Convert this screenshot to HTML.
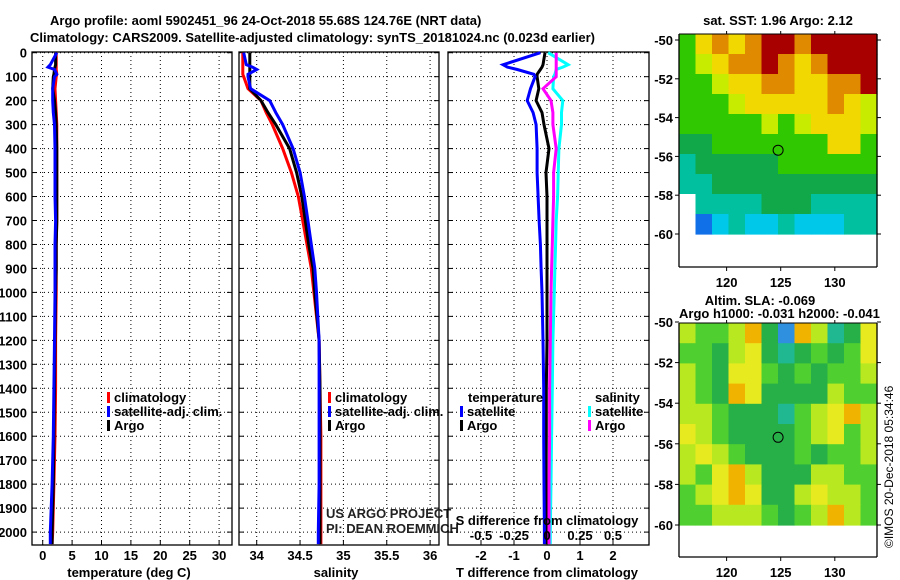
<!DOCTYPE html>
<html><head><meta charset="utf-8"><style>
body{margin:0;background:#fff;}
svg{display:block;font-family:"Liberation Sans",sans-serif;}
.b{font-weight:bold;font-size:13px;}
</style></head><body>
<svg id="c" width="900" height="580" xmlns="http://www.w3.org/2000/svg">
<text class="b" x="50" y="25">Argo profile: aoml 5902451_96 24-Oct-2018 55.68S 124.76E (NRT data)</text>
<text class="b" x="30" y="42">Climatology: CARS2009. Satellite-adjusted climatology: synTS_20181024.nc (0.023d earlier)</text>
<text class="b" x="778" y="25" text-anchor="middle">sat. SST: 1.96 Argo: 2.12</text>
<text class="b" x="760" y="305" text-anchor="middle">Altim. SLA: -0.069</text>
<text class="b" x="679" y="318">Argo h1000: -0.031 h2000: -0.041</text>
<text x="893" y="548" font-size="12" transform="rotate(-90 893 548)">©IMOS 20-Dec-2018 05:34:46</text>
<g id="g"></g>
</svg>
<script>
// ---- data ----
const depths = [0,50,60,70,90,100,150,200,250,300,400,500,600,700,800,900,1000,1200,1400,1600,1800,2000,2050];
const tempArgo = [2.2,2.2,2.1,2.0,1.9,1.8,1.7,2.0,2.2,2.3,2.4,2.4,2.4,2.4,2.3,2.3,2.2,2.1,2.0,1.9,1.8,1.6,1.6];
const tempClim = [2.3,2.3,2.3,2.3,2.4,2.3,2.1,2.2,2.3,2.4,2.4,2.4,2.4,2.4,2.3,2.3,2.3,2.2,2.2,2.1,1.9,1.7,1.6];
const tempSat = [2.4,1.3,0.9,2.0,2.4,2.0,1.7,1.7,1.8,2.0,2.1,2.1,2.1,2.2,2.1,2.1,2.1,2.0,1.9,1.8,1.6,1.3,1.3];
const salArgo = [33.92,33.92,33.92,33.92,33.92,33.92,33.92,34.05,34.13,34.22,34.38,34.46,34.52,34.56,34.60,34.65,34.67,34.72,34.73,34.73,34.73,34.73,34.73];
const salClim = [33.84,33.84,33.84,33.84,33.84,33.85,33.90,34.05,34.11,34.18,34.30,34.40,34.48,34.53,34.58,34.63,34.66,34.72,34.73,34.74,34.74,34.74,34.74];
const salSat = [33.85,33.88,33.95,34.0,33.9,33.9,33.93,34.15,34.22,34.30,34.42,34.50,34.55,34.59,34.63,34.67,34.69,34.72,34.72,34.72,34.72,34.71,34.71];
const dTSat = [-0.2,-1.33,-1.2,-0.9,-0.4,-0.36,-0.5,-0.6,-0.42,-0.33,-0.3,-0.3,-0.27,-0.24,-0.2,-0.18,-0.15,-0.12,-0.1,-0.1,-0.09,-0.08,-0.08];
const dTArgo = [-0.06,-0.12,-0.15,-0.2,-0.3,-0.3,-0.25,-0.33,-0.15,-0.09,0.06,-0.03,0,0,0,0,0,0,-0.02,-0.02,-0.03,-0.03,-0.03];
const dSSat = [0.008,0.16,0.12,0.07,0.06,0.05,0.045,0.12,0.11,0.11,0.09,0.085,0.08,0.07,0.065,0.06,0.055,0.045,0.04,0.035,0.03,0.025,0.025];
const dSArgo = [0.07,0.07,0.07,0.07,0.07,0.07,-0.03,0.03,0.045,0.045,0.07,0.05,0.05,0.045,0.04,0.035,0.03,0.025,0.02,0.02,0.015,0.015,0.015];
const tempTicks = [0,5,10,15,20,25,30];
const salTicks = [34,34.5,35,35.5,36];
const salTickLabels = ["34","34.5","35","35.5","36"];
const dTTicks = [-2,-1,0,1,2];
const dSTicks = [-0.5,-0.25,0,0.25,0.5];
const dSTickLabels = ["-0.5","-0.25","0","0.25","0.5"];
const depthTicks = [0,100,200,300,400,500,600,700,800,900,1000,1100,1200,1300,1400,1500,1600,1700,1800,1900,2000];
const lonTicks = [120,125,130];
const latTicks = [-50,-52,-54,-56,-58,-60];
const sstGrid = ["GYOYORRORRRR","GyYOOROYORRR","GGyYYOOYYOOR","GGGyYYYYYOYy","GGGGGyGyYYYy","ggGGGGGGGYYG","TgggggGGGGGG","TTgggggggggg","WTTTTgggTTTT","WBCTCCTCCCTT"];
const slaGrid = ["yGGyOgBOyTgY","GGgyYgTgGgGY","yGgYYGgGgGGy","yGgOYggggyGG","yyGgggTGyYOy","YyGggggGyYGy","yYyGgggGgGGy","yGYOygggyyGG","GyYOYggyYyyG","GGyyyGgGyOyG"];
const palette = {R:"#a80000",O:"#e08a00",Y:"#f0d800",y:"#c8ec00",G:"#30c800",g:"#10a848",T:"#00c0a0",C:"#00c8e8",B:"#1070e8",W:"#ffffff"};
const slaPalette = {O:"#f0b400",Y:"#e8ea20",y:"#b8e820",G:"#50d030",g:"#28b048",T:"#20b890",B:"#3090e0"};
const argoLon = 124.76, argoLat = -55.68;

// ---- drawing ----
const NS="http://www.w3.org/2000/svg";
const G=document.getElementById('g');
function mk(tag,at,parent){const e=document.createElementNS(NS,tag);for(const k in at)e.setAttribute(k,at[k]);(parent||G).appendChild(e);return e;}
const yD = d => 52.7 + d*0.2397;
const yTop=52, yBot=545;
function panel(name,x0,x1,xs,ticks,labels,ylabels){
  const g=mk('g',{});
  
  
  ticks.forEach((t,i)=>{const x=xs(t);
    mk('line',{x1:x,x2:x,y1:yTop,y2:yBot,stroke:'#000','stroke-dasharray':'1,3'},g);
    mk('line',{x1:x,x2:x,y1:yBot,y2:yBot-5,stroke:'#000'},g);
    if(labels){const t2=mk('text',{x:x,y:560,'text-anchor':'middle',class:'b'},g);t2.textContent=labels[i];}
  });
  depthTicks.forEach(d=>{const y=yD(d);
    mk('line',{x1:x0,x2:x1,y1:y,y2:y,stroke:'#000','stroke-dasharray':'1,3'},g);
    mk('line',{x1:x0,x2:x0+5,y1:y,y2:y,stroke:'#000'},g);
    mk('line',{x1:x1-5,x2:x1,y1:y,y2:y,stroke:'#000'},g);
    if(ylabels){const t=mk('text',{x:27,y:y+5,'text-anchor':'end',class:'b'},g);t.textContent=d;}
  });
  mk('rect',{x:x0,y:yTop,width:x1-x0,height:yBot-yTop,fill:'none',stroke:'#000','stroke-width':1.3},g);
  return g;
}
function line(g,name,vals,xs,color,w){
  const pts=vals.map((v,i)=>xs(v).toFixed(1)+','+yD(depths[i]).toFixed(1)).join(' ');
  const p=mk('polyline',{points:pts,fill:'none',stroke:color,'stroke-width':w},g);
  
  
}
function legend(g,x,y,items){
  items.forEach((it,i)=>{
    mk('rect',{x:x,y:y+i*14-10,width:3,height:11,fill:it[1]},g);
    const t=mk('text',{x:x+7,y:y+i*14,class:'b'},g);t.textContent=it[0];
    
    
  });
}
function txt(s,x,y,anchor,cls,name){const t=mk('text',{x:x,y:y,'text-anchor':anchor||'start',class:cls||'b'});t.textContent=s;
  
  return t;}

// temperature panel
const xT=v=>42.7+v*5.88;
const p1=panel('temperature-panel',32,232,xT,tempTicks,tempTicks.map(String),true);
line(p1,'temp-climatology-line',tempClim,xT,'#f00',3);
line(p1,'temp-argo-line',tempArgo,xT,'#000',3);
line(p1,'temp-satellite-line',tempSat,xT,'#00f',3);
legend(p1,107,402,[['climatology','#f00'],['satellite-adj. clim.','#00f'],['Argo','#000']]);
txt('temperature (deg C)',129,577,'middle','b','x-axis-title-temperature');

// salinity panel
const xS=v=>256.7+(v-34)*86.7;
const p2=panel('salinity-panel',239,439,xS,salTicks,salTickLabels,false);
line(p2,'sal-climatology-line',salClim,xS,'#f00',3);
line(p2,'sal-argo-line',salArgo,xS,'#000',3);
line(p2,'sal-satellite-line',salSat,xS,'#00f',3);
legend(p2,328,402,[['climatology','#f00'],['satellite-adj. clim.','#00f'],['Argo','#000']]);
txt('salinity',336,577,'middle','b','x-axis-title-salinity');
const u1=txt('US ARGO PROJECT',326,518,'start','','credit-project');u1.setAttribute('font-size','12');u1.setAttribute('fill','#222');
const u2=txt('PI: DEAN ROEMMICH',326,533,'start','','credit-pi');u2.setAttribute('font-size','12');u2.setAttribute('fill','#222');

// difference panel
const xDT=v=>547+v*33;
const xDS=v=>547+v*132;
const p3=panel('difference-panel',448,649,xDT,dTTicks,dTTicks.map(String),false);
line(p3,'dS-satellite-line',dSSat,xDS,'#0ff',3);
line(p3,'dS-argo-line',dSArgo,xDS,'#f0f',3);
line(p3,'dT-argo-line',dTArgo,xDT,'#000',3);
line(p3,'dT-satellite-line',dTSat,xDT,'#00f',3);
txt('temperature',468,402,'start','b','legend-title-temperature');
legend(p3,460,416,[['satellite','#00f'],['Argo','#000']]);
txt('salinity',595,402,'start','b','legend-title-salinity');
legend(p3,588,416,[['satellite','#0ff'],['Argo','#f0f']]);
txt('S difference from climatology',547,525,'middle','b','s-diff-axis-title');
dSTicks.forEach((v,i)=>txt(dSTickLabels[i],xDS(v),540,'middle','b','s-diff-tick'));
txt('T difference from climatology',547,577,'middle','b','x-axis-title-t-diff');

// maps
function map(name,grid,pal,top,lat50,latPx,bottom){
  const x0=679,x1=877,lonL=115.6,lonR=133.9;
  const xL=v=>x0+(v-lonL)*(x1-x0)/(lonR-lonL);
  const yL=v=>lat50+(-50-v)*latPx;
  const g=mk('g',{});
  
  
  const rows=grid.length, cols=grid[0].length;
  const cw=(x1-x0)/cols, ytop=top, ybot=yL(-60), rh=(ybot-ytop)/rows;
  grid.forEach((row,r)=>{[...row].forEach((ch,c)=>{
    const cell=mk('rect',{x:x0+c*cw,y:ytop+r*rh,width:cw+0.6,height:rh+0.6,fill:pal[ch]||palette[ch]},g);
    
    
  });});
  mk('line',{x1:x0,x2:x0,y1:top,y2:bottom,stroke:'#000','stroke-width':1.3},g);
  mk('line',{x1:x1,x2:x1,y1:top,y2:bottom,stroke:'#000','stroke-width':1.3},g);
  mk('line',{x1:x0,x2:x1,y1:bottom,y2:bottom,stroke:'#000','stroke-width':1.3},g);
  mk('line',{x1:x0,x2:x1,y1:top,y2:top,stroke:'#000','stroke-width':1},g);
  latTicks.forEach(v=>{const y=yL(v);
    mk('line',{x1:x0-4,x2:x0,y1:y,y2:y,stroke:'#000'},g);
    mk('line',{x1:x1,x2:x1+4,y1:y,y2:y,stroke:'#000'},g);
    const t=mk('text',{x:673,y:y+5,'text-anchor':'end',class:'b'},g);t.textContent=v;});
  lonTicks.forEach(v=>{const x=xL(v);
    mk('line',{x1:x,x2:x,y1:bottom,y2:bottom+4,stroke:'#000'},g);
    mk('line',{x1:x,x2:x,y1:top,y2:top-3,stroke:'#000'},g);
    const t=mk('text',{x:x,y:bottom+20,'text-anchor':'middle',class:'b'},g);t.textContent=v;});
  const c=mk('circle',{cx:xL(argoLon),cy:yL(argoLat),r:5,fill:'none',stroke:'#000'},g);
  
  
}
map('sst-map',sstGrid,palette,34,40,19.4,267);
map('sla-map',slaGrid,slaPalette,323,322,20.3,557);
</script>
</body></html>
